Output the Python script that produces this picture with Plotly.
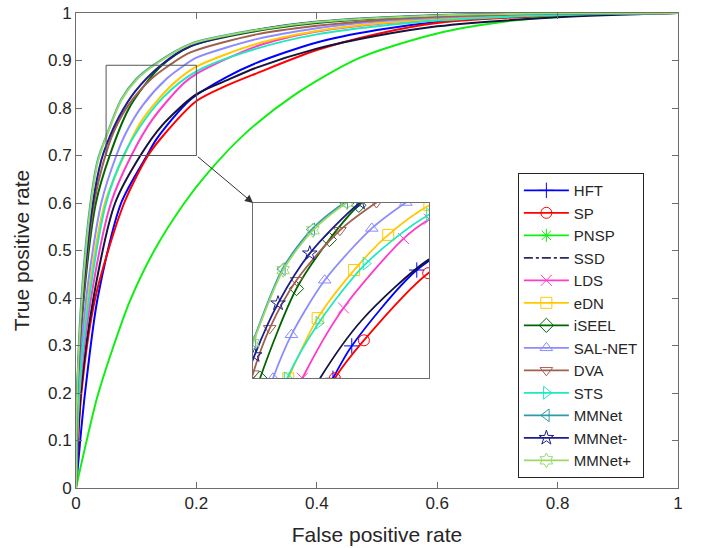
import plotly.graph_objects as go

# ---- data (x = false positive rate, y = true positive rate) ----
names = ["HFT", "SP", "PNSP", "SSD", "LDS", "eDN", "iSEEL", "SAL-NET", "DVA", "STS", "MMNet", "MMNet-", "MMNet+"]

hft_x = [0, 0.007, 0.015, 0.036, 0.075, 0.118, 0.134, 0.1893, 0.25, 0.3, 0.4, 0.5, 0.6, 0.8, 1]
hft_y = [0, 0.10, 0.20, 0.40, 0.60, 0.700, 0.735, 0.817, 0.865, 0.895, 0.938, 0.964, 0.981, 0.996, 1]

sp_x = [0, 0.009, 0.032, 0.080, 0.1196, 0.1443, 0.199, 0.25, 0.3, 0.4, 0.5, 0.6, 0.8, 1]
sp_y = [0, 0.20, 0.40, 0.60, 0.700, 0.741, 0.8136, 0.847, 0.873, 0.922, 0.956, 0.979, 0.995, 1]

pnsp_x = [0, 0.015, 0.035, 0.06, 0.09, 0.13, 0.18, 0.22, 0.28, 0.36, 0.47, 0.6, 0.72, 0.8, 0.9, 1]
pnsp_y = [0, 0.085, 0.19, 0.29, 0.395, 0.50, 0.60, 0.665, 0.745, 0.825, 0.905, 0.957, 0.983, 0.992, 0.998, 1]

ssd_x = [0, 0.008, 0.029, 0.065, 0.107, 0.1427, 0.199, 0.25, 0.3, 0.4, 0.5, 0.6, 0.8, 1]
ssd_y = [0, 0.20, 0.40, 0.60, 0.700, 0.763, 0.828, 0.858, 0.885, 0.925, 0.952, 0.972, 0.991, 1]

lds_x = [0, 0.006, 0.025, 0.058, 0.092, 0.127, 0.178, 0.2, 0.3, 0.4, 0.5, 0.6, 0.8, 1]
lds_y = [0, 0.20, 0.40, 0.60, 0.700, 0.776, 0.851, 0.872, 0.930, 0.961, 0.977, 0.986, 0.997, 1]

edn_x = [0, 0.005, 0.020, 0.048, 0.080, 0.105, 0.136, 0.165, 0.2, 0.3, 0.4, 0.5, 0.6, 0.8, 1]
edn_y = [0, 0.20, 0.40, 0.60, 0.700, 0.765, 0.817, 0.855, 0.887, 0.935, 0.962, 0.978, 0.987, 0.997, 1]

iseel_x = [0, 0.003, 0.013, 0.033, 0.056, 0.087, 0.115, 0.14, 0.19, 0.3, 0.4, 0.6, 0.8, 1]
iseel_y = [0, 0.20, 0.40, 0.60, 0.700, 0.797, 0.850, 0.887, 0.930, 0.962, 0.979, 0.994, 0.999, 1]

sal_x = [0, 0.004, 0.017, 0.042, 0.067, 0.0827, 0.111, 0.151, 0.18, 0.2, 0.3, 0.4, 0.5, 0.6, 0.8, 1]
sal_y = [0, 0.20, 0.40, 0.60, 0.700, 0.747, 0.806, 0.862, 0.890, 0.906, 0.945, 0.968, 0.982, 0.990, 0.998, 1]

dva_x = [0, 0.003, 0.012, 0.030, 0.05, 0.0642, 0.087, 0.1239, 0.155, 0.19, 0.3, 0.4, 0.5, 0.6, 0.8, 1]
dva_y = [0, 0.20, 0.40, 0.60, 0.705, 0.754, 0.806, 0.860, 0.890, 0.917, 0.955, 0.973, 0.985, 0.992, 0.998, 1]

sts_x = [0, 0.005, 0.022, 0.050, 0.079, 0.106, 0.146, 0.2, 0.3, 0.4, 0.5, 0.6, 0.8, 1]
sts_y = [0, 0.20, 0.40, 0.60, 0.700, 0.760, 0.824, 0.877, 0.925, 0.955, 0.972, 0.984, 0.996, 1]

mmnet_x = [0, 0.002, 0.009, 0.024, 0.036, 0.05, 0.075, 0.10, 0.128, 0.19, 0.3, 0.4, 0.6, 0.8, 1]
mmnet_y = [0, 0.21, 0.40, 0.60, 0.690, 0.740, 0.818, 0.861, 0.890, 0.935, 0.965, 0.982, 0.996, 0.999, 1]

mmnetm_x = [0, 0.002, 0.011, 0.028, 0.042, 0.0514, 0.0713, 0.0983, 0.141, 0.19, 0.3, 0.4, 0.6, 0.8, 1]
mmnetm_y = [0, 0.20, 0.40, 0.60, 0.690, 0.725, 0.781, 0.835, 0.890, 0.930, 0.964, 0.981, 0.995, 0.999, 1]

mmnetp_x = [0, 0.002, 0.010, 0.025, 0.037, 0.05, 0.0756, 0.101, 0.13, 0.19, 0.3, 0.4, 0.6, 0.8, 1]
mmnetp_y = [0, 0.20, 0.40, 0.60, 0.690, 0.738, 0.817, 0.860, 0.890, 0.934, 0.964, 0.981, 0.995, 0.999, 1]

xs = [hft_x, sp_x, pnsp_x, ssd_x, lds_x, edn_x, iseel_x, sal_x, dva_x, sts_x, mmnet_x, mmnetm_x, mmnetp_x]
ys = [hft_y, sp_y, pnsp_y, ssd_y, lds_y, edn_y, iseel_y, sal_y, dva_y, sts_y, mmnet_y, mmnetm_y, mmnetp_y]

colors = ["#0000ff", "#ff0000", "#11ee11", "#14143c", "#ff3cc8", "#ffc800", "#006400",
          "#8c8cff", "#a0604f", "#20e8c0", "#2f9aab", "#1c1c8c", "#99d96a"]
symbols = ["cross-thin-open", "circle-open", "asterisk-open", None, "x-thin-open", "square-open",
           "diamond-open", "triangle-up-open", "triangle-down-open", "triangle-right-open",
           "triangle-left-open", "star-open", "hexagram-open"]

# zoom window
zx = [0.05, 0.2]
zy = [0.70, 0.89]

FONT = "Liberation Sans, Arial, sans-serif"
fig = go.Figure()

# main curves
for n, x, y, c in zip(names, xs, ys, colors):
    fig.add_trace(go.Scatter(x=x, y=y, mode="lines", name=n, showlegend=False,
                             line=dict(color=c, width=2, shape="spline", smoothing=0.8),
                             hoverinfo="skip"))

# inset curves (also give the legend entries)
for i, (n, x, y, c, s) in enumerate(zip(names, xs, ys, colors, symbols)):
    if s is None:
        # drawn solid in the plot, legend entry shown as dash-dot
        fig.add_trace(go.Scatter(x=x, y=y, mode="lines", name=n, xaxis="x2", yaxis="y2",
                                 showlegend=False,
                                 line=dict(color=c, width=1.8, shape="spline", smoothing=0.8),
                                 hoverinfo="skip"))
        fig.add_trace(go.Scatter(x=[None], y=[None], mode="lines", name=n, xaxis="x2", yaxis="y2",
                                 legendrank=i + 1,
                                 line=dict(color="#2b2b5a", width=1.8, dash="dashdot")))
    else:
        fig.add_trace(go.Scatter(x=x, y=y, mode="lines+markers", name=n, xaxis="x2", yaxis="y2",
                                 legendrank=i + 1,
                                 line=dict(color=c, width=1.8, shape="spline", smoothing=0.8),
                                 marker=dict(symbol=s, size=11, color=c, line=dict(color=c, width=1)),
                                 hoverinfo="skip"))

axis_common = dict(showgrid=False, zeroline=False, showline=True, linecolor="#6e6e6e", linewidth=1,
                   mirror="ticks", ticks="inside", ticklen=6, tickcolor="#6e6e6e", automargin=False,
                   ticklabeloverflow="allow",
                   tickfont=dict(family=FONT, size=17, color="#262626"))

fig.update_layout(
    width=702, height=548,
    margin=dict(l=76, r=24, t=13, b=60),
    paper_bgcolor="white", plot_bgcolor="white",
    font=dict(family=FONT, color="#262626"),
    hovermode=False,
    xaxis=dict(range=[0, 1], domain=[0, 1],
               tickvals=[0, 0.2, 0.4, 0.6, 0.8, 1], ticktext=["0", "0.2", "0.4", "0.6", "0.8", "1"],
               title=dict(text="False positive rate", font=dict(family=FONT, size=21, color="#262626"), standoff=14),
               **axis_common),
    yaxis=dict(range=[0, 1], domain=[0, 1],
               tickvals=[0, 0.1, 0.2, 0.3, 0.4, 0.5, 0.6, 0.7, 0.8, 0.9, 1],
               ticktext=["0", "0.1", "0.2", "0.3", "0.4", "0.5", "0.6", "0.7", "0.8", "0.9", "1"],
               title=dict(text="True positive rate", font=dict(family=FONT, size=21, color="#262626"), standoff=12),
               **axis_common),
    xaxis2=dict(range=zx, domain=[0.294, 0.587], anchor="y2", showticklabels=False, ticks="",
                showgrid=False, zeroline=False, showline=True, mirror=True, linecolor="#6e6e6e", linewidth=1),
    yaxis2=dict(range=zy, domain=[0.231, 0.601], anchor="x2", showticklabels=False, ticks="",
                showgrid=False, zeroline=False, showline=True, mirror=True, linecolor="#6e6e6e", linewidth=1),
    legend=dict(x=0.734, y=0.663, xanchor="left", yanchor="top", bgcolor="white",
                bordercolor="#262626", borderwidth=1, itemwidth=45,
                entrywidth=125, entrywidthmode="pixels",
                font=dict(family=FONT, size=15, color="#262626"), tracegroupgap=0),
    shapes=[dict(type="rect", xref="x", yref="y", x0=zx[0], x1=zx[1], y0=zy[0], y1=zy[1],
                 line=dict(color="#555555", width=1), layer="above")],
    annotations=[dict(x=0.294, y=0.600, xref="x", yref="y", ax=zx[1], ay=zy[0], axref="x", ayref="y",
                      text="", showarrow=True, arrowhead=2, arrowsize=1.6, arrowwidth=1,
                      arrowcolor="#333333")],
)

fig.write_html("out.html", config={"displayModeBar": False},
               post_script="document.body.style.margin='0';")
